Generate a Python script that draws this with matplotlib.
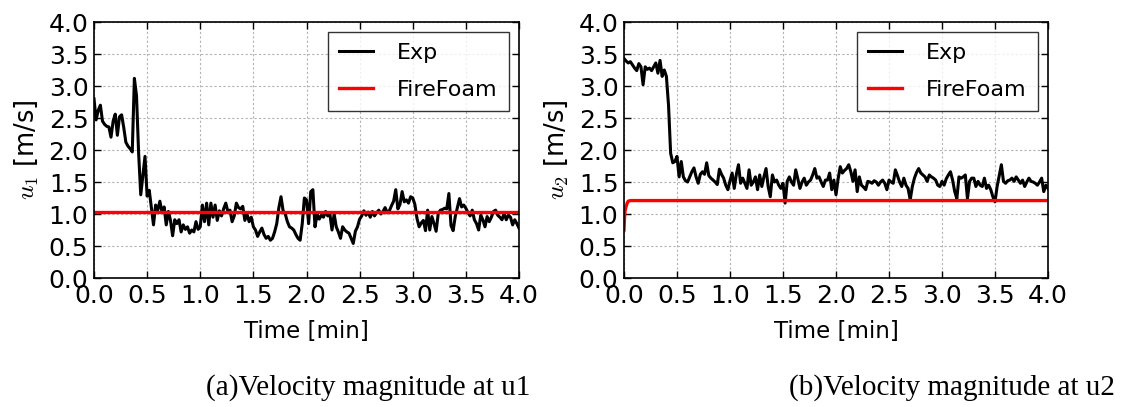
import numpy as np
import matplotlib
matplotlib.use("Agg")
import matplotlib.pyplot as plt

plt.rcParams["mathtext.fontset"] = "cm"

# time axis [min], sampled every 0.02 min
time = np.round(np.arange(0, 4.0001, 0.02), 2)

# u1 measured (Exp)
u1_exp = [
    2.80, 2.47, 2.62, 2.70, 2.45, 2.40, 2.37, 2.36, 2.20, 2.45,
    2.56, 2.23, 2.52, 2.55, 2.35, 2.12, 2.06, 2.02, 1.97, 3.12,
    2.85, 1.95, 1.30, 1.60, 1.90, 1.28, 1.37, 1.10, 0.83, 1.14,
    1.06, 1.20, 1.03, 1.11, 0.83, 1.04, 0.90, 0.66, 0.91, 0.85,
    0.91, 0.72, 0.83, 0.76, 0.80, 0.70, 0.75, 0.72, 0.88, 0.76,
    0.80, 1.14, 0.88, 1.17, 0.83, 1.17, 0.95, 1.14, 0.90, 1.05,
    0.97, 1.08, 1.17, 1.04, 1.06, 0.88, 0.97, 1.17, 1.10, 1.08,
    1.12, 0.90, 1.00, 0.88, 0.95, 0.80, 0.75, 0.65, 0.72, 0.78,
    0.68, 0.62, 0.65, 0.59, 0.62, 0.72, 0.85, 1.10, 1.27, 1.05,
    1.00, 0.88, 0.80, 0.78, 0.75, 0.68, 0.62, 0.59, 0.85, 1.25,
    1.22, 0.85, 1.35, 1.38, 0.80, 1.00, 0.92, 0.98, 0.95, 1.04,
    0.97, 1.00, 0.75, 1.00, 0.80, 0.72, 0.62, 0.80, 0.75, 0.72,
    0.70, 0.62, 0.54, 0.73, 0.80, 0.92, 0.97, 1.05, 0.98, 1.03,
    0.95, 1.04, 0.97, 1.02, 1.06, 1.00, 1.04, 1.10, 1.02, 1.05,
    1.13, 1.20, 1.38, 1.08, 1.15, 1.35, 1.19, 1.22, 1.17, 1.27,
    1.25, 1.15, 0.93, 0.80, 0.86, 0.90, 0.74, 1.06, 0.75, 0.96,
    0.85, 0.73, 1.01, 1.06, 1.07, 1.09, 1.08, 1.32, 0.82, 0.74,
    0.96, 1.10, 1.24, 1.11, 1.14, 1.09, 1.02, 0.97, 1.06, 0.91,
    0.85, 0.75, 0.98, 0.91, 0.80, 0.96, 0.88, 0.95, 1.04, 1.06,
    0.98, 0.95, 0.91, 1.01, 0.91, 0.98, 0.95, 0.83, 0.91, 0.85,
    0.78,
]

# u2 measured (Exp)
u2_exp = [
    3.43, 3.39, 3.36, 3.38, 3.33, 3.28, 3.24, 3.35, 3.30, 3.02,
    3.30, 3.26, 3.28, 3.24, 3.30, 3.36, 3.20, 3.40, 3.15, 3.25,
    3.15, 2.70, 1.95, 1.80, 1.82, 1.90, 1.58, 1.82, 1.58, 1.52,
    1.50, 1.58, 1.66, 1.72, 1.58, 1.48, 1.62, 1.66, 1.62, 1.80,
    1.60, 1.56, 1.53, 1.50, 1.46, 1.70, 1.62, 1.56, 1.45, 1.38,
    1.52, 1.64, 1.40, 1.62, 1.77, 1.48, 1.56, 1.48, 1.40, 1.69,
    1.45, 1.50, 1.58, 1.38, 1.61, 1.43, 1.58, 1.71, 1.43, 1.27,
    1.61, 1.50, 1.53, 1.45, 1.40, 1.48, 1.17, 1.51, 1.58, 1.50,
    1.45, 1.69, 1.55, 1.40, 1.50, 1.56, 1.45, 1.50, 1.53, 1.61,
    1.71, 1.56, 1.58, 1.50, 1.43, 1.53, 1.53, 1.64, 1.38, 1.53,
    1.30, 1.55, 1.74, 1.64, 1.68, 1.71, 1.77, 1.66, 1.51, 1.69,
    1.35, 1.58, 1.45, 1.42, 1.38, 1.51, 1.50, 1.48, 1.52, 1.50,
    1.45, 1.50, 1.53, 1.48, 1.38, 1.53, 1.50, 1.48, 1.69, 1.60,
    1.50, 1.43, 1.56, 1.45, 1.40, 1.22, 1.43, 1.56, 1.65, 1.71,
    1.64, 1.61, 1.58, 1.51, 1.61, 1.58, 1.56, 1.53, 1.45, 1.43,
    1.51, 1.45, 1.55, 1.61, 1.66, 1.53, 1.35, 1.24, 1.58, 1.56,
    1.58, 1.61, 1.24, 1.51, 1.56, 1.56, 1.43, 1.51, 1.45, 1.43,
    1.56, 1.40, 1.45, 1.38, 1.27, 1.19, 1.43, 1.60, 1.77, 1.51,
    1.48, 1.52, 1.53, 1.56, 1.51, 1.58, 1.53, 1.48, 1.53, 1.43,
    1.50, 1.56, 1.51, 1.50, 1.48, 1.45, 1.50, 1.56, 1.35, 1.45,
    1.40,
]

# FireFoam predictions
ff1_time = [0.0, 4.0]
ff1_vals = [1.03, 1.03]
ff2_time = [0.0, 0.005, 0.01, 0.02, 0.03, 0.04, 0.06, 4.0]
ff2_vals = [0.75, 0.95, 1.05, 1.12, 1.17, 1.20, 1.21, 1.21]

xticks = [0.0, 0.5, 1.0, 1.5, 2.0, 2.5, 3.0, 3.5, 4.0]
yticks = [0.0, 0.5, 1.0, 1.5, 2.0, 2.5, 3.0, 3.5, 4.0]
captions = ["(a)Velocity magnitude at u1", "(b)Velocity magnitude at u2"]
ylabels = ["$u_1$ [m/s]", "$u_2$ [m/s]"]

fig = plt.figure(figsize=(11.21, 4.07), dpi=100)
ax1 = fig.add_axes([94 / 1121, 1 - 278 / 407, 425 / 1121, 256 / 407])
ax2 = fig.add_axes([624 / 1121, 1 - 278 / 407, 424 / 1121, 256 / 407])

series = [(u1_exp, ff1_time, ff1_vals), (u2_exp, ff2_time, ff2_vals)]
for ax, (exp, ft, fv), ylab in zip([ax1, ax2], series, ylabels):
    ax.plot(time[:len(exp)], exp, color="black", lw=2.2, label="Exp")
    ax.plot(ft, fv, color="red", lw=2.4, label="FireFoam")
    ax.set_xlim(0, 4)
    ax.set_ylim(0, 4)
    ax.set_xticks(xticks)
    ax.set_yticks(yticks)
    ax.set_xticklabels(["%.1f" % v for v in xticks])
    ax.set_yticklabels(["%.1f" % v for v in yticks])
    ax.tick_params(direction="in", top=True, right=True, length=5,
                   labelsize=18, pad=4, width=1)
    ax.grid(True, color="0.7", linestyle=(0, (2, 2)), lw=0.8)
    for s in ax.spines.values():
        s.set_linewidth(1.2)
    ax.set_xlabel("Time [min]", fontsize=16.5, labelpad=9)
    ax.set_ylabel(ylab, fontsize=18.5, labelpad=6)
    leg = ax.legend(loc="upper right", fontsize=16, fancybox=False,
                    handlelength=1.5, handletextpad=1.1, borderaxespad=0.45,
                    labelspacing=0.75, borderpad=0.5)
    leg.get_frame().set_edgecolor("black")
    leg.get_frame().set_linewidth(1.0)

fig.text(368 / 1121, 1 - 388 / 407, captions[0], ha="center", va="center",
         fontsize=21, family="Liberation Serif")
fig.text(952 / 1121, 1 - 388 / 407, captions[1], ha="center", va="center",
         fontsize=21, family="Liberation Serif")

fig.savefig("out.png", dpi=100, facecolor="white")
